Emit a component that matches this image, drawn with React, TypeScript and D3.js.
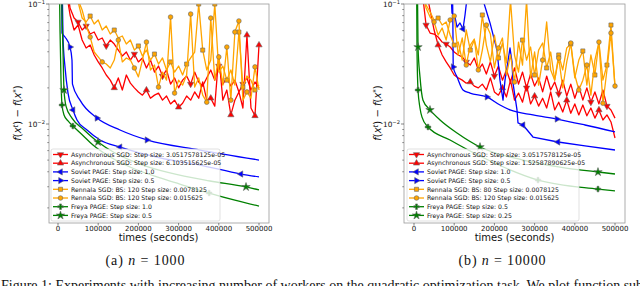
import React from 'react';
import * as d3 from 'd3';

// sampling times (seconds) of the noisy runs
const times = [20000, 30000, 40000, 50000, 60000, 70000, 80000, 90000, 100000, 110000, 120000, 130000,
  140000, 150000, 160000, 170000, 180000, 190000, 200000, 210000, 220000, 230000, 240000, 250000, 260000,
  270000, 280000, 290000, 300000, 310000, 320000, 330000, 340000, 350000, 360000, 370000, 380000, 390000,
  400000, 410000, 420000, 430000, 440000, 450000, 460000, 470000, 480000, 490000, 500000];

const xTicks = [0, 100000, 200000, 300000, 400000, 500000];
const yMajor = [0.1, 0.01];
const yMinor = [0.002, 0.003, 0.004, 0.005, 0.006, 0.007, 0.008, 0.009, 0.02, 0.03, 0.04, 0.05, 0.06, 0.07, 0.08, 0.09];

// ---- (a) n = 1000 ----
const aAsyncSlow = [0.158, 0.0926, 0.0764, 0.0708, 0.0607, 0.0656, 0.0562, 0.0584, 0.0501, 0.0521, 0.0447, 0.0501,
  0.0464, 0.0413, 0.0369, 0.0398, 0.0341, 0.0383, 0.0329, 0.0355, 0.0293, 0.0341, 0.0271, 0.0304, 0.0251, 0.0282,
  0.0215, 0.0242, 0.02, 0.0232, 0.0251, 0.0215, 0.0271, 0.0224, 0.0207, 0.0242, 0.0282, 0.0232, 0.0304, 0.0215,
  0.0242, 0.0207, 0.0232, 0.0185, 0.0215, 0.0242, 0.0192, 0.0224, 0.02];
const aAsyncFast = [0.131, 0.081, 0.0607, 0.0668, 0.0501, 0.043, 0.0455, 0.0376, 0.0329, 0.0293, 0.0256, 0.0232,
  0.02, 0.0242, 0.0192, 0.0256, 0.0219, 0.02, 0.0185, 0.0174, 0.0192, 0.0164, 0.0174, 0.0181, 0.0158, 0.0171,
  0.0147, 0.0158, 0.0138, 0.0149, 0.0171, 0.0158, 0.0185, 0.0164, 0.0224, 0.0158, 0.0164, 0.0141, 0.0376, 0.0158,
  0.0192, 0.0119, 0.0158, 0.0185, 0.0136, 0.0551, 0.0136, 0.0117, 0.0455];
const aRennalaSmall = [0.233, 0.158, 0.119, 0.104, 0.0764, 0.0708, 0.0794, 0.0681, 0.0736, 0.0607, 0.0656, 0.0562,
  0.0607, 0.0521, 0.0541, 0.0464, 0.0501, 0.0413, 0.0447, 0.0369, 0.0413, 0.0341, 0.0383, 0.0316, 0.0355, 0.0282,
  0.0329, 0.0271, 0.0304, 0.0256, 0.0316, 0.0355, 0.0398, 0.1, 0.0413, 0.0282, 0.0341, 0.1, 0.0271, 0.0304,
  0.0232, 0.0282, 0.0211, 0.0584, 0.0203, 0.0251, 0.0232, 0.0192, 0.0211];
const aRennalaBig = [0.233, 0.174, 0.131, 0.108, 0.0891, 0.0668, 0.0531, 0.0398, 0.0362, 0.0329, 0.0316, 0.0293,
  0.0341, 0.0501, 0.0329, 0.0355, 0.0341, 0.0293, 0.0247, 0.0341, 0.0482, 0.0282, 0.031, 0.0203, 0.0271, 0.0232,
  0.0779, 0.0181, 0.0232, 0.0211, 0.0256, 0.0825, 0.0203, 0.0242, 0.0174, 0.0152, 0.0764, 0.0232, 0.0362, 0.0211,
  0.0438, 0.0158, 0.0584, 0.0722, 0.0158, 0.0185, 0.0164, 0.0299, 0.0192];
const aSovietBigT = [9000, 12400, 17400, 24900, 37300, 47300, 72100, 104500, 154200, 253700, 353200, 455000, 500000];
const aSovietBigV = [0.3, 0.0531, 0.0299, 0.0181, 0.0131, 0.0108, 0.00891, 0.00736, 0.00643, 0.00521, 0.00455, 0.00383, 0.00362];
const aSovietSmallT = [8000, 10000, 17400, 29900, 34800, 36000, 54700, 97000, 154200, 221400, 353200, 500000];
const aSovietSmallV = [0.3, 0.0573, 0.0531, 0.0438, 0.0341, 0.0215, 0.0158, 0.0112, 0.00891, 0.00736, 0.00607, 0.00501];
const aFreyaBigT = [2500, 5000, 7500, 10000, 15000, 25000, 37000, 62000, 87000, 130000, 179000, 254000, 303000, 376000, 440000, 500000];
const aFreyaBigV = [0.282, 0.0607, 0.0232, 0.0144, 0.0119, 0.0106, 0.00962, 0.00803, 0.00668, 0.00531, 0.00438, 0.00355, 0.00316, 0.00266, 0.00232, 0.00207];
const aFreyaSmallT = [7500, 10000, 12400, 14900, 19900, 34800, 62200, 99500, 141800, 204000, 278600, 378100, 467700, 500000];
const aFreyaSmallV = [0.282, 0.0891, 0.0413, 0.0192, 0.0141, 0.0112, 0.00909, 0.00708, 0.00573, 0.00464, 0.00391, 0.00335, 0.00299, 0.00282];

// ---- (b) n = 10000 ----
const bAsyncSlow = [0.131, 0.0668, 0.0573, 0.0562, 0.0531, 0.0482, 0.0464, 0.0438, 0.0398, 0.0376, 0.0362, 0.0329,
  0.031, 0.0355, 0.0282, 0.0316, 0.0261, 0.0329, 0.0251, 0.0304, 0.0232, 0.0282, 0.0224, 0.0293, 0.0215, 0.0271,
  0.02, 0.0261, 0.0207, 0.0242, 0.0185, 0.0251, 0.0192, 0.0224, 0.0178, 0.0232, 0.0171, 0.0215, 0.0164, 0.0207,
  0.0158, 0.02, 0.0152, 0.0185, 0.0147, 0.0192, 0.0141, 0.0131, 0.0112];
const bAsyncTiny = [0.192, 0.131, 0.0891, 0.0607, 0.0455, 0.0376, 0.0329, 0.0293, 0.0256, 0.0242, 0.0232, 0.0219,
  0.0224, 0.0207, 0.02, 0.0215, 0.0192, 0.0242, 0.0185, 0.0174, 0.02, 0.0168, 0.0232, 0.0158, 0.0181, 0.0152,
  0.0211, 0.0147, 0.0171, 0.0141, 0.0164, 0.0136, 0.0185, 0.0131, 0.0152, 0.0126, 0.0158, 0.0123, 0.0147, 0.0119,
  0.0144, 0.0117, 0.0136, 0.0112, 0.0131, 0.0108, 0.0119, 0.0104, 0.00764];
const bRennalaSmall = [0.158, 0.0981, 0.0858, 0.0736, 0.0764, 0.0668, 0.0708, 0.0551, 0.0455, 0.0482, 0.0341, 0.0607,
  0.0413, 0.0501, 0.0376, 0.081, 0.0455, 0.0329, 0.0551, 0.0355, 0.0473, 0.0323, 0.108, 0.0376, 0.0271, 0.0501,
  0.0341, 0.0438, 0.0256, 0.0413, 0.0473, 0.0293, 0.0398, 0.0232, 0.0376, 0.0282, 0.043, 0.0464, 0.0242, 0.0341,
  0.0406, 0.0211, 0.0376, 0.0256, 0.0482, 0.0232, 0.031, 0.0668, 0.02];
const bRennalaBig = [0.131, 0.0926, 0.0779, 0.0708, 0.0551, 0.0631, 0.0501, 0.0736, 0.0794, 0.0376, 0.0521, 0.031,
  0.0455, 0.0511, 0.0282, 0.0413, 0.0668, 0.0562, 0.0293, 0.043, 0.0521, 0.0256, 0.0376, 0.0224, 0.0482, 0.031,
  0.108, 0.0242, 0.0398, 0.0211, 0.0341, 0.0708, 0.0282, 0.0232, 0.0355, 0.02, 0.0329, 0.0473, 0.0256, 0.0192,
  0.0232, 0.031, 0.0174, 0.0341, 0.0482, 0.0149, 0.0282, 0.0573, 0.0207];
const bSovietBigT = [89600, 94500, 102000, 107000, 114400, 121900, 126900, 134300, 164200, 171600, 189100, 206500,
  213900, 221400, 226400, 238800, 243800, 246300, 256200, 258700, 271100, 296000, 358200, 425400, 500000];
const bSovietBigV = [0.192, 0.0841, 0.0779, 0.0643, 0.0695, 0.0619, 0.081, 0.131, 0.131, 0.108, 0.0695, 0.0413,
  0.0232, 0.0158, 0.0232, 0.043, 0.0329, 0.0219, 0.0131, 0.0102, 0.00981, 0.00779, 0.00708, 0.00656, 0.00607];
const bSovietSmallT = [94500, 97000, 97500, 107000, 121900, 139300, 181600, 213900, 238800, 296000, 355700, 425400, 500000];
const bSovietSmallV = [0.192, 0.0531, 0.0299, 0.0247, 0.0192, 0.0181, 0.0168, 0.0144, 0.0131, 0.0119, 0.011, 0.00981, 0.00858];
const bFreyaBigT = [6000, 7500, 10000, 14900, 19900, 34800, 89600, 164200, 308500, 457700, 500000];
const bFreyaBigV = [0.3, 0.0413, 0.0192, 0.0136, 0.0114, 0.00944, 0.00736, 0.00541, 0.00341, 0.00287, 0.00277];
const bFreyaSmallT = [7500, 10000, 14900, 22400, 39800, 64700, 107000, 164200, 271100, 363200, 457700, 500000];
const bFreyaSmallV = [0.3, 0.0438, 0.0247, 0.0158, 0.0131, 0.0108, 0.00841, 0.00643, 0.00501, 0.00438, 0.00398, 0.00383];

type Sym = 'v' | '^' | '<' | '>' | 's' | 'o' | 'P' | '*';
interface Series { label: string; color: string; marker: Sym; t: number[]; v: number[]; marks: number[]; smooth?: boolean }

const RED = '#ff0000', BLUE = '#0000ff', ORANGE = '#ffa500', GREEN = '#008000';

const seriesA: Series[] = [
  { label: 'Asynchronous SGD: Step size: 3.0517578125e-05', color: RED, marker: 'v', t: times, v: aAsyncSlow, marks: [3, 5, 10, 17, 24, 31, 38, 44] },
  { label: 'Asynchronous SGD: Step size: 6.103515625e-05', color: RED, marker: '^', t: times, v: aAsyncFast, marks: [12, 20, 28, 36, 41, 45, 47, 48] },
  { label: 'Soviet PAGE: Step size: 1.0', color: BLUE, marker: '<', t: aSovietBigT, v: aSovietBigV, marks: [4, 8, 11], smooth: true },
  { label: 'Soviet PAGE: Step size: 0.5', color: BLUE, marker: '>', t: aSovietSmallT, v: aSovietSmallV, marks: [3, 7, 9], smooth: true },
  { label: 'Rennala SGD: BS: 120 Step size: 0.0078125', color: ORANGE, marker: 's', t: times, v: aRennalaSmall, marks: [6, 12, 18, 22, 26, 30, 33, 34, 37, 40, 43, 44, 47] },
  { label: 'Rennala SGD: BS: 120 Step size: 0.015625', color: ORANGE, marker: 'o', t: times, v: aRennalaBig, marks: [6, 9, 13, 17, 20, 23, 26, 27, 31, 35, 36, 38, 40, 41, 42, 43, 45, 47] },
  { label: 'Freya PAGE: Step size: 1.0', color: GREEN, marker: 'P', t: aFreyaBigT, v: aFreyaBigV, marks: [3, 6, 13], smooth: true },
  { label: 'Freya PAGE: Step size: 0.5', color: GREEN, marker: '*', t: aFreyaSmallT, v: aFreyaSmallV, marks: [3, 7, 12], smooth: true },
];

const seriesB: Series[] = [
  { label: 'Asynchronous SGD: Step size: 3.0517578125e-05', color: RED, marker: 'v', t: times, v: bAsyncSlow, marks: [1, 6, 11, 18, 26, 34, 42, 46] },
  { label: 'Asynchronous SGD: Step size: 1.52587890625e-05', color: RED, marker: '^', t: times, v: bAsyncTiny, marks: [4, 12, 20, 28, 36, 44] },
  { label: 'Soviet PAGE: Step size: 1.0', color: BLUE, marker: '<', t: bSovietBigT, v: bSovietBigV, marks: [5, 20, 22] },
  { label: 'Soviet PAGE: Step size: 0.5', color: BLUE, marker: '>', t: bSovietSmallT, v: bSovietSmallV, marks: [2, 6, 10], smooth: true },
  { label: 'Rennala SGD: BS: 80 Step size: 0.0078125', color: ORANGE, marker: 's', t: times, v: bRennalaSmall, marks: [4, 8, 12, 15, 19, 22, 25, 28, 31, 34, 37, 40, 43, 46, 47] },
  { label: 'Rennala SGD: BS: 120 Step size: 0.015625', color: ORANGE, marker: 'o', t: times, v: bRennalaBig, marks: [3, 7, 8, 11, 14, 16, 19, 23, 26, 30, 34, 37, 39, 41, 44, 45, 47, 48] },
  { label: 'Freya PAGE: Step size: 0.5', color: GREEN, marker: 'P', t: bFreyaBigT, v: bFreyaBigV, marks: [2, 5, 8, 9], smooth: true },
  { label: 'Freya PAGE: Step size: 0.25', color: GREEN, marker: '*', t: bFreyaSmallT, v: bFreyaSmallV, marks: [1, 4, 7, 10], smooth: true },
];

const SANS = 'DejaVu Sans, sans-serif';
const SERIF = 'Liberation Serif, serif';
const TOP = 4, BOTTOM = 223;

const symType: Record<Sym, d3.SymbolType> = {
  v: d3.symbolTriangle, '^': d3.symbolTriangle, '<': d3.symbolTriangle, '>': d3.symbolTriangle,
  s: d3.symbolSquare, o: d3.symbolCircle, P: d3.symbolCross, '*': d3.symbolStar,
};
const symRot: Record<Sym, number> = { v: 180, '^': 0, '<': -90, '>': 90, s: 0, o: 0, P: 0, '*': 0 };

function Marker({ m, x, y, color }: { m: Sym; x: number; y: number; color: string }) {
  const d = d3.symbol().type(symType[m]).size(m === '*' ? 22 : 17)()!;
  return <path d={d} transform={`translate(${x},${y}) rotate(${symRot[m]})`} fill={color} stroke="#666" strokeWidth={0.6} />;
}

interface PanelProps { id: string; frameL: number; frameR: number; x0: number; x1: number; series: Series[]; legendL: number; legendW: number; ylabX: number; capX: number; capW: number; capTag: string; capN: string }

function Panel(p: PanelProps) {
  const x = d3.scaleLinear().domain([0, 500000]).range([p.x0, p.x1]);
  const y = d3.scaleLog().domain([0.1, 0.01]).range([TOP, 124]);
  const clip = `clip-${p.id}`;
  const rowY = (i: number) => 154.5 + i * 8.7;
  return (
    <g>
      <defs>
        <clipPath id={clip}><rect x={p.frameL} y={TOP} width={p.frameR - p.frameL} height={BOTTOM - TOP} /></clipPath>
      </defs>
      <g clipPath={`url(#${clip})`}>
        {p.series.map((s, i) => {
          const pts = s.t.map((t, k) => [t, s.v[k]] as [number, number]);
          const line = d3.line<[number, number]>().x(d => x(d[0])).y(d => y(d[1]))
            .curve(s.smooth ? d3.curveMonotoneX : d3.curveLinear);
          return (
            <g key={i}>
              <path d={line(pts)!} fill="none" stroke={s.color} strokeWidth={1.3} strokeLinejoin="round" />
              {s.marks.map(k => <Marker key={k} m={s.marker} x={x(s.t[k])} y={y(s.v[k])} color={s.color} />)}
            </g>
          );
        })}
      </g>
      <rect x={p.frameL} y={TOP} width={p.frameR - p.frameL} height={BOTTOM - TOP} fill="none" stroke="#999" strokeWidth={0.8} />
      {xTicks.map(t => (
        <g key={t}>
          <line x1={x(t)} x2={x(t)} y1={BOTTOM} y2={BOTTOM + 2.5} stroke="#333" strokeWidth={0.6} />
          <text x={x(t)} y={BOTTOM + 8} textAnchor="middle" fontFamily={SANS} fontSize={7} fill="#111">{t}</text>
        </g>
      ))}
      {yMinor.map(v => <line key={v} x1={p.frameL - 1.8} x2={p.frameL} y1={y(v)} y2={y(v)} stroke="#333" strokeWidth={0.5} />)}
      {yMajor.map((v, i) => (
        <g key={v}>
          <line x1={p.frameL - 3} x2={p.frameL} y1={y(v)} y2={y(v)} stroke="#333" strokeWidth={0.6} />
          <text x={p.frameL - 4} y={y(v) + 2.8} textAnchor="end" fontFamily={SANS} fontSize={7.3} fill="#111">
            10<tspan dy={-3.2} fontSize={5.2}>{i === 0 ? '−1' : '−2'}</tspan>
          </text>
        </g>
      ))}
      <text transform={`translate(${p.ylabX},113) rotate(-90)`} textAnchor="middle" fontFamily={SANS} fontSize={10} fill="#111">
        <tspan fontStyle="italic">f</tspan>(<tspan fontStyle="italic">x</tspan><tspan dy={-3.5} fontSize={7} fontStyle="italic">t</tspan><tspan dy={3.5}>) − </tspan>
        <tspan fontStyle="italic">f</tspan>(<tspan fontStyle="italic">x</tspan><tspan dy={-3.5} fontSize={7}>*</tspan><tspan dy={3.5}>)</tspan>
      </text>
      <text x={(x(0) + x(500000)) / 2} y={240.5} textAnchor="middle" fontFamily={SANS} fontSize={10} fill="#111">times (seconds)</text>
      <rect x={p.legendL} y={149} width={p.legendW} height={72} rx={2} fill="#fff" fillOpacity={0.8} stroke="#ccc" strokeWidth={0.6} />
      {p.series.map((s, i) => (
        <g key={i}>
          <line x1={p.legendL + 2} x2={p.legendL + 17} y1={rowY(i)} y2={rowY(i)} stroke={s.color} strokeWidth={1.3} />
          <Marker m={s.marker} x={p.legendL + 9.5} y={rowY(i)} color={s.color} />
          <text x={p.legendL + 20} y={rowY(i) + 2.2} fontFamily={SANS} fontSize={6.2} fill="#111">{s.label}</text>
        </g>
      ))}
      <text x={p.capX} y={265} textAnchor="middle" fontFamily={SERIF} fontSize={14} fill="#111" textLength={p.capW} lengthAdjust="spacing">
        {p.capTag} <tspan fontStyle="italic">n</tspan> = {p.capN}
      </text>
    </g>
  );
}

export default function App() {
  return (
    <svg width={640} height={286} style={{ position: 'absolute', left: 0, top: 0, background: '#fff' }}>
      <rect width={640} height={286} fill="#fff" />
      <Panel id="a" frameL={49} frameR={269} x0={58} x1={259} series={seriesA} legendL={51} legendW={169} ylabX={21} capX={145} capW={79} capTag="(a)" capN="1000" />
      <Panel id="b" frameL={404} frameR={625} x0={414} x1={615} series={seriesB} legendL={407} legendW={172} ylabX={381} capX={502} capW={87} capTag="(b)" capN="10000" />
      <text x={1} y={290} fontFamily={SERIF} fontSize={14} fill="#111">
        Figure 1: Experiments with increasing number of workers on the quadratic optimization task. We plot function suboptimality with stochastic li
      </text>
    </svg>
  );
}
